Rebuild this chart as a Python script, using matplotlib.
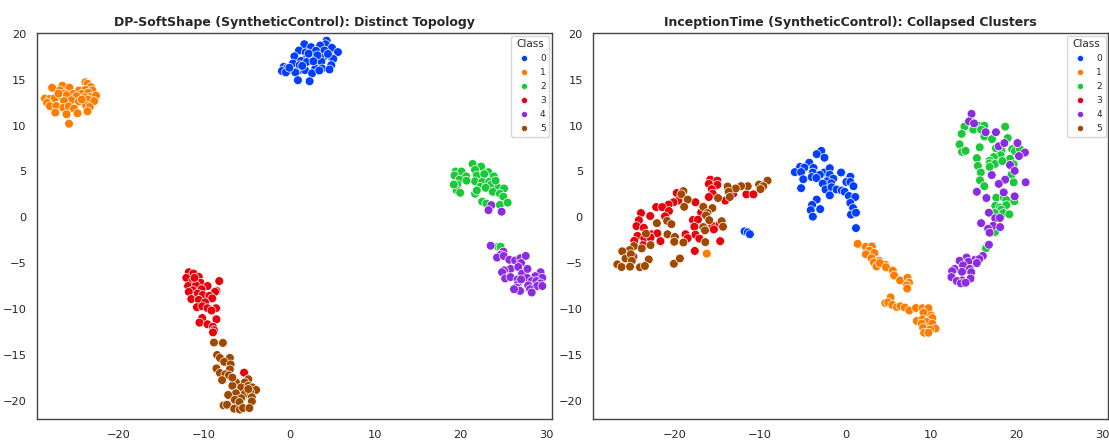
import matplotlib
matplotlib.use("Agg")
import matplotlib.pyplot as plt
import numpy as np
import pandas as pd
import seaborn as sns

# t-SNE embeddings, (x, y) per class
# --- DP-SoftShape ---
ss_class0 = [(4.35, 19.25), (1.74, 18.86), (4.22, 18.86), (3.60, 18.72), (2.53, 18.54), (4.97, 18.47),
             (5.67, 18.00), (1.12, 18.18), (3.11, 18.15), (1.90, 17.97), (4.10, 18.18), (0.58, 17.54),
             (2.07, 17.40), (3.02, 17.29), (3.93, 17.40), (4.93, 17.40), (5.13, 17.26), (1.37, 17.04),
             (0.41, 16.76), (2.03, 16.93), (3.40, 16.93), (3.73, 16.97), (4.89, 16.58), (-0.66, 16.40),
             (-0.25, 16.29), (0.08, 16.08), (1.28, 16.08), (1.82, 16.04), (3.02, 16.22), (3.81, 16.22),
             (4.68, 16.11), (-0.87, 15.94), (-0.41, 15.79), (0.70, 15.79), (2.65, 15.69), (0.99, 14.94),
             (2.36, 14.83), (1.20, 16.58), (2.24, 17.83), (3.27, 17.65), (2.8, 17.0), (1.5, 16.5),
             (4.5, 17.8), (3.5, 16.0), (0.0, 16.3)]
ss_class1 = [(-23.85, 14.72), (-23.60, 14.55), (-23.19, 14.19), (-26.54, 14.33), (-27.74, 14.12),
             (-25.71, 14.12), (-26.83, 13.83), (-24.60, 13.83), (-23.85, 13.90), (-23.02, 13.83),
             (-26.25, 13.48), (-25.30, 13.44), (-24.27, 13.44), (-23.52, 13.58), (-28.57, 12.94),
             (-27.95, 12.91), (-27.41, 12.98), (-26.67, 13.19), (-26.05, 13.30), (-24.89, 13.19),
             (-23.23, 13.12), (-22.61, 13.26), (-23.93, 13.08), (-25.51, 12.76), (-26.34, 12.66),
             (-24.60, 12.62), (-23.52, 12.83), (-22.82, 12.66), (-28.32, 12.48), (-27.99, 12.12),
             (-27.25, 12.12), (-26.42, 11.94), (-25.80, 12.09), (-25.18, 11.84), (-23.77, 12.19),
             (-23.35, 12.01), (-27.37, 11.41), (-26.05, 11.23), (-24.77, 11.34), (-23.60, 11.55),
             (-25.76, 10.20), (-24.27, 12.83), (-26.99, 13.48)]
ss_class2 = [(21.41, 5.81), (22.40, 5.53), (21.70, 5.17), (19.42, 4.99), (20.12, 4.99), (23.27, 4.92),
             (21.90, 4.56), (22.77, 4.71), (23.89, 4.46), (19.30, 4.56), (20.66, 4.46), (21.70, 3.92),
             (22.53, 3.85), (23.35, 3.85), (19.88, 4.10), (19.63, 3.57), (20.70, 3.99), (22.32, 3.32),
             (23.60, 3.57), (24.39, 3.21), (25.09, 3.14), (22.94, 3.21), (19.54, 2.96), (19.96, 2.67),
             (21.70, 2.57), (23.77, 2.78), (24.60, 2.57), (25.01, 2.25), (22.53, 1.71), (23.02, 1.50),
             (24.60, 1.35), (25.51, 1.60), (21.90, 2.92), (24.10, 3.99), (19.21, 3.57), (24.39, -3.21),
             (24.68, -3.21)]
ss_class3 = [(-11.76, -5.99), (-11.22, -6.13), (-12.05, -6.60), (-10.60, -6.49), (-11.30, -6.95),
             (-10.39, -7.13), (-8.20, -6.95), (-11.84, -7.49), (-10.93, -7.42), (-9.57, -7.49),
             (-11.30, -7.95), (-10.27, -7.84), (-8.53, -8.02), (-11.76, -8.13), (-10.72, -8.31),
             (-10.14, -8.48), (-8.70, -8.13), (-9.36, -8.56), (-11.47, -8.91), (-10.60, -9.00),
             (-9.03, -8.84), (-9.86, -9.27), (-10.81, -9.80), (-10.19, -9.70), (-9.57, -9.91),
             (-8.57, -9.91), (-9.11, -10.16), (-10.19, -10.98), (-10.52, -11.48), (-9.57, -11.66),
             (-8.53, -11.12), (-8.94, -11.94), (-8.82, -12.30), (-8.94, -12.55), (-5.30, -16.93),
             (-11.10, -6.60)]
ss_class4 = [(23.60, 1.32), (23.27, 0.78), (24.80, 0.61), (23.52, -3.10), (25.01, -3.74), (24.68, -4.10),
             (24.27, -4.39), (25.05, -4.21), (25.71, -4.63), (26.38, -4.71), (27.00, -4.46), (27.62, -4.21),
             (27.08, -4.99), (25.84, -5.63), (25.09, -5.78), (24.85, -5.99), (26.75, -5.42), (27.20, -6.13),
             (27.83, -5.63), (29.36, -5.99), (28.74, -6.42), (29.56, -6.60), (25.22, -6.67), (25.84, -6.52),
             (26.67, -6.77), (27.78, -6.60), (28.32, -6.95), (28.86, -6.95), (29.36, -7.20), (26.67, -7.34),
             (27.91, -7.42), (28.95, -7.49), (26.54, -7.66), (28.12, -7.84), (26.96, -8.02), (28.32, -8.20),
             (26.25, -7.84), (27.08, -6.77), (29.56, -7.49)]
ss_class5 = [(-8.82, -13.65), (-7.78, -13.69), (-8.45, -15.01), (-8.12, -15.33), (-6.96, -15.33),
             (-7.62, -15.76), (-6.87, -16.04), (-8.53, -16.47), (-6.96, -16.58), (-8.12, -16.97),
             (-7.49, -17.11), (-7.08, -17.22), (-7.87, -17.75), (-6.25, -18.00), (-4.80, -17.65),
             (-5.22, -18.00), (-5.63, -18.54), (-4.80, -18.36), (-4.31, -18.54), (-3.89, -18.82),
             (-6.67, -18.36), (-6.25, -19.18), (-7.16, -19.36), (-5.22, -19.25), (-4.60, -19.07),
             (-4.39, -19.61), (-5.63, -19.72), (-6.38, -19.89), (-5.84, -20.14), (-4.39, -20.07),
             (-7.70, -20.50), (-7.29, -20.43), (-6.46, -20.86), (-5.80, -20.96), (-5.42, -20.79),
             (-4.68, -20.79), (-4.80, -18.72), (-6.67, -17.47)]

# --- InceptionTime ---
it_class0 = [(-2.85, 7.24), (-3.39, 6.88), (-2.48, 6.49), (-4.26, 5.95), (-5.33, 5.49), (-4.83, 5.42),
             (-5.95, 4.92), (-5.21, 4.92), (-3.76, 5.38), (-2.52, 4.88), (-1.86, 5.35), (-0.54, 4.88),
             (-3.84, 4.88), (-3.02, 4.63), (-1.86, 4.63), (0.54, 4.42), (-3.97, 4.39), (-3.43, 4.28),
             (-1.45, 4.21), (-4.96, 4.14), (-2.19, 3.92), (-1.69, 3.71), (-2.69, 3.67), (0.08, 3.85),
             (0.54, 3.85), (0.91, 3.39), (-2.36, 3.03), (-1.65, 3.28), (-1.07, 3.03), (-0.45, 2.92),
             (-0.12, 2.78), (-5.21, 3.17), (-1.86, 2.39), (0.37, 2.32), (1.12, 2.21), (-3.39, 1.93),
             (0.54, 1.57), (-3.93, 1.35), (0.87, 1.00), (-4.09, 0.78), (-2.98, 0.89), (0.62, 0.29),
             (1.20, 0.50), (-3.84, 0.07), (1.20, -1.18), (-11.82, -1.53), (-11.45, -1.64), (-11.20, -1.85)]
it_class1 = [(1.40, -2.89), (2.36, -3.21), (3.06, -3.17), (2.77, -3.64), (2.36, -4.03), (3.35, -3.89),
             (3.02, -4.46), (3.93, -4.74), (3.31, -4.92), (3.60, -5.35), (4.63, -5.17), (3.99, -4.99),
             (4.71, -5.45), (5.50, -5.81), (5.66, -6.35), (6.36, -6.88), (7.23, -6.60), (7.40, -7.13),
             (7.15, -7.42), (7.19, -7.77), (5.25, -8.73), (4.63, -9.34), (4.96, -9.27), (5.45, -9.55),
             (5.99, -9.80), (6.40, -9.70), (6.90, -9.84), (7.44, -10.16), (8.22, -9.88), (8.97, -9.91),
             (9.67, -9.91), (9.09, -10.41), (10.00, -10.70), (10.12, -10.98), (8.31, -11.30), (8.97, -11.12),
             (9.46, -11.41), (8.88, -11.59), (10.12, -11.59), (10.50, -12.12), (9.05, -12.05), (9.88, -12.23),
             (9.17, -12.58), (9.67, -12.58), (-16.24, -3.96)]
it_class2 = [(15.58, 9.98), (16.20, 9.98), (13.88, 9.88), (14.92, 9.55), (15.83, 9.55), (18.64, 9.88),
             (13.55, 9.09), (16.20, 8.81), (17.11, 8.52), (18.93, 8.63), (13.31, 7.95), (15.66, 7.63),
             (17.56, 7.52), (13.60, 7.13), (14.01, 7.24), (18.22, 7.27), (19.46, 7.42), (19.79, 7.20),
             (20.37, 7.42), (18.10, 6.77), (17.31, 6.56), (19.21, 6.38), (15.33, 6.45), (16.82, 6.17),
             (16.82, 5.88), (17.44, 5.81), (18.31, 6.13), (19.63, 5.78), (15.45, 5.60), (16.82, 5.49),
             (15.79, 4.88), (19.38, 4.63), (15.70, 4.03), (19.63, 3.81), (16.20, 3.39), (17.60, 2.14),
             (18.47, 2.14), (18.76, 1.89), (17.48, 1.25), (18.02, 1.07), (18.76, 1.32), (19.71, 1.75),
             (18.18, 0.82), (17.44, 0.46), (18.43, 0.46), (19.13, 0.32), (17.44, -1.60), (16.40, -3.39)]
it_class3 = [(-15.83, 4.10), (-15.00, 3.99), (-16.00, 3.64), (-15.00, 3.53), (-15.66, 3.07), (-19.75, 2.64),
             (-15.54, 2.57), (-16.00, 2.21), (-13.14, 2.57), (-11.61, 2.50), (-10.79, 2.50), (-19.55, 1.82),
             (-20.12, 1.64), (-20.70, 1.39), (-17.56, 1.64), (-14.09, 1.82), (-22.15, 1.11), (-21.45, 1.11),
             (-20.66, 0.68), (-16.90, 0.53), (-23.93, 0.46), (-22.85, 0.14), (-21.12, 0.11), (-24.17, -0.32),
             (-17.85, -0.29), (-17.27, -0.25), (-24.46, -0.96), (-23.60, -1.14), (-17.69, -1.03),
             (-15.58, -0.93), (-14.75, -0.78), (-24.34, -2.03), (-22.69, -1.85), (-22.02, -1.75),
             (-23.55, -2.28), (-22.81, -2.21), (-18.72, -1.85), (-18.47, -2.28), (-17.56, -1.89),
             (-17.11, -2.32), (-15.41, -1.32), (-24.71, -2.57), (-21.65, -2.60), (-14.67, -2.60),
             (-17.64, -3.67), (-24.83, -4.28), (-23.68, -3.03)]
it_class4 = [(14.71, 11.27), (14.42, 10.45), (15.00, 10.23), (16.36, 9.27), (17.56, 9.27), (17.89, 7.74),
             (18.55, 8.09), (20.08, 8.09), (20.95, 7.06), (20.25, 6.67), (19.21, 5.70), (19.75, 5.06),
             (17.07, 4.60), (18.64, 4.10), (17.89, 3.64), (21.03, 3.81), (15.33, 2.78), (18.47, 2.71),
             (16.45, 2.10), (19.75, 2.28), (16.74, 0.50), (17.48, -0.11), (18.02, -0.07), (15.83, -0.64),
             (17.23, -0.93), (16.65, -1.25), (18.06, -1.07), (16.82, -1.68), (16.74, -2.99), (16.03, -4.21),
             (14.13, -4.39), (15.12, -4.63), (13.31, -4.74), (14.34, -4.85), (15.62, -4.56), (15.33, -4.99),
             (13.72, -5.24), (12.73, -5.63), (14.50, -5.63), (12.44, -5.88), (13.60, -5.95), (14.67, -5.99),
             (12.36, -6.52), (13.60, -6.88), (14.59, -6.67), (12.98, -6.95), (13.47, -7.20), (14.01, -7.13)]
it_class5 = [(-9.13, 3.99), (-10.12, 3.57), (-9.63, 3.39), (-9.96, 3.07), (-11.45, 3.39), (-12.23, 3.39),
             (-12.85, 3.14), (-13.80, 3.35), (-13.68, 2.78), (-13.55, 2.21), (-14.92, 2.10), (-18.97, 2.85),
             (-19.21, 2.50), (-18.47, 1.93), (-18.88, 1.14), (-16.65, 1.14), (-15.58, 1.00), (-16.16, 0.46),
             (-16.32, 0.21), (-20.87, -0.39), (-20.37, -0.75), (-22.07, -0.64), (-15.95, -0.32), (-14.50, -0.43),
             (-14.34, -1.03), (-16.65, -1.07), (-16.45, -1.43), (-20.83, -1.85), (-19.96, -2.14), (-23.35, -1.78),
             (-18.97, -2.75), (-20.04, -2.67), (-16.41, -2.71), (-22.81, -3.03), (-24.75, -3.14), (-23.84, -3.39),
             (-25.25, -3.57), (-26.12, -3.71), (-25.74, -4.49), (-25.12, -4.03), (-25.00, -4.74), (-23.02, -4.60),
             (-26.69, -5.13), (-26.20, -5.42), (-25.21, -5.38), (-24.05, -5.45), (-23.47, -5.31), (-20.08, -5.06),
             (-19.38, -4.49)]

titles = ["DP-SoftShape (SyntheticControl): Distinct Topology",
          "InceptionTime (SyntheticControl): Collapsed Clusters"]


def to_frame(classes):
    rows = []
    for label, pts in enumerate(classes):
        for x, y in pts:
            rows.append({"x": x, "y": y, "Class": label})
    return pd.DataFrame(rows)


softshape_df = to_frame([ss_class0, ss_class1, ss_class2, ss_class3, ss_class4, ss_class5])
inception_df = to_frame([it_class0, it_class1, it_class2, it_class3, it_class4, it_class5])

sns.set_theme(style="white")
plt.rcParams["font.family"] = ["DejaVu Sans"]

fig = plt.figure(figsize=(11.09, 4.44), dpi=100)
ax1 = fig.add_axes([0.0334, 0.056, 0.4644, 0.870])
ax2 = fig.add_axes([0.535, 0.056, 0.4644, 0.870])

for ax, df, title in zip([ax1, ax2], [softshape_df, inception_df], titles):
    sns.scatterplot(data=df, x="x", y="y", hue="Class", palette="bright",
                    s=40, ax=ax, legend="full")
    ax.set_xlim(-29.5, 30.7)
    ax.set_ylim(-22.0, 20.1)
    ax.set_xticks([-20, -10, 0, 10, 20, 30])
    ax.set_yticks([-20, -15, -10, -5, 0, 5, 10, 15, 20])
    ax.set_xlabel("")
    ax.set_ylabel("")
    ax.tick_params(labelsize=8.2, pad=1.5)
    ax.set_title(title, fontsize=9.0, fontweight="bold", pad=5)
    for sp in ax.spines.values():
        sp.set_color("#444444")
        sp.set_linewidth(1.0)
    leg = ax.legend(title="Class", loc="upper right", fontsize=6.5, title_fontsize=7.5,
                    markerscale=0.7, borderpad=0.4, labelspacing=0.55, handletextpad=0.8,
                    borderaxespad=0.3, frameon=True)
    for txt in leg.get_texts():
        txt.set_ha("right")

fig.savefig("out.png", dpi=100)
